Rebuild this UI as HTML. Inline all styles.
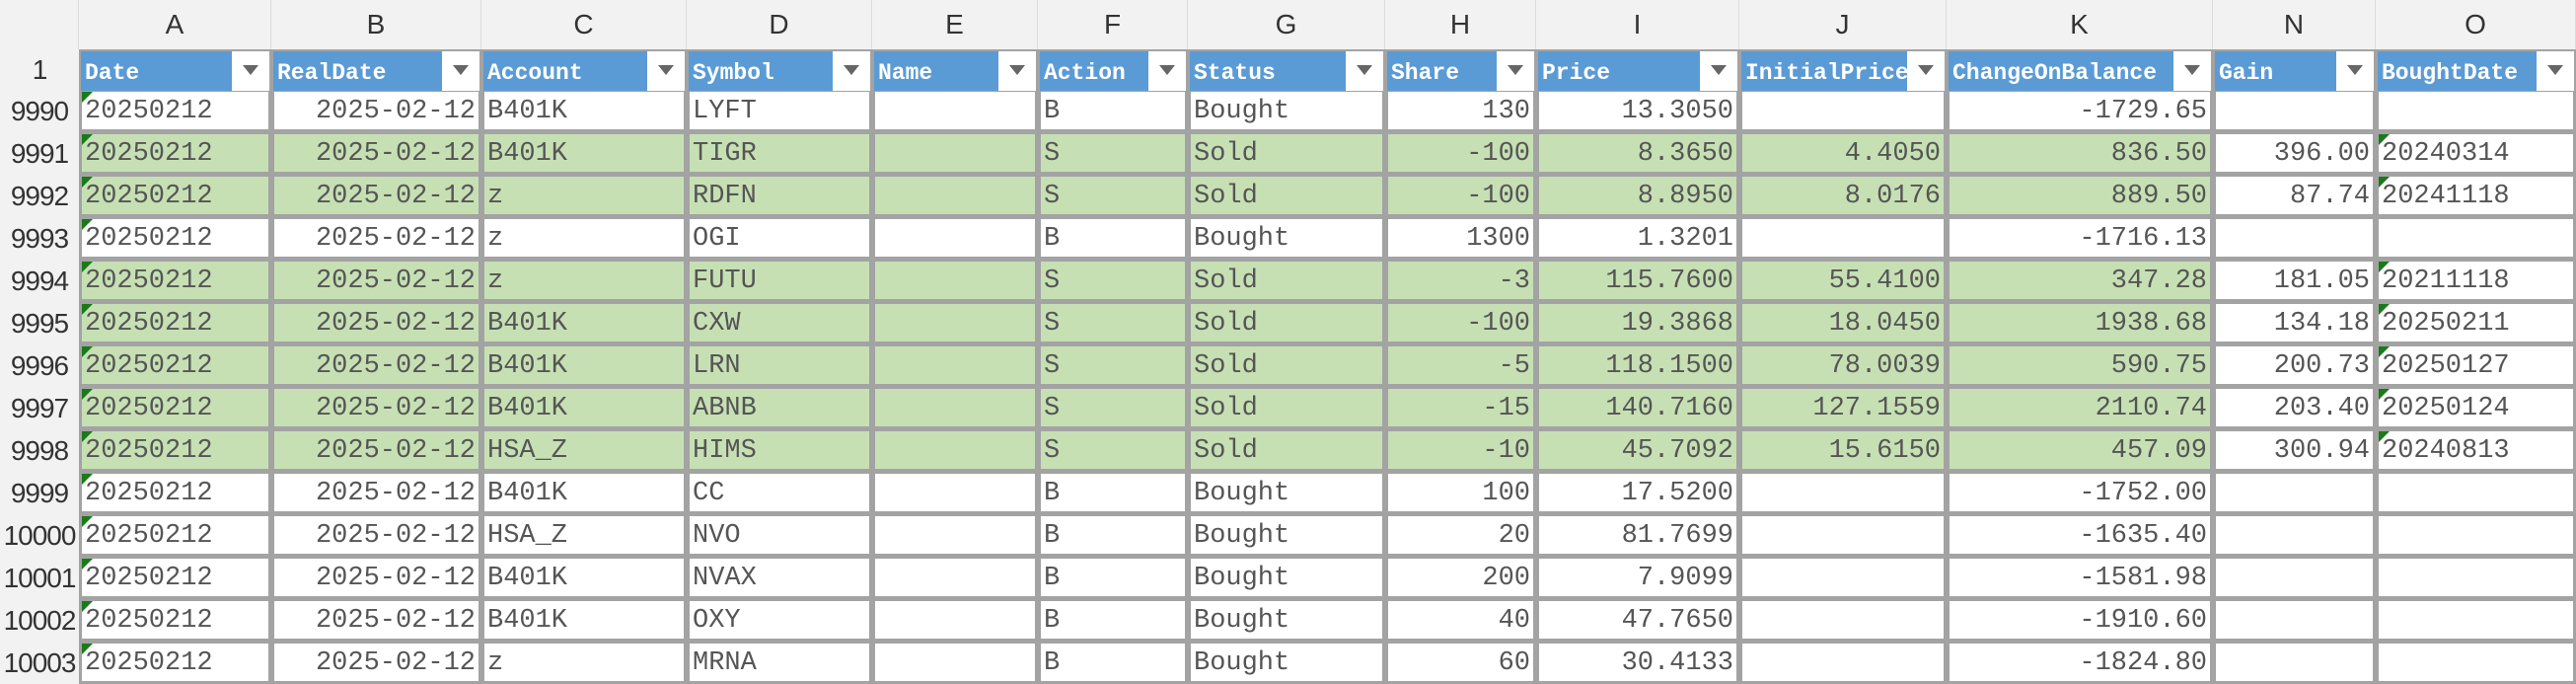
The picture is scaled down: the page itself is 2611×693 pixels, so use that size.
<!DOCTYPE html>
<html><head><meta charset="utf-8">
<style>
*{box-sizing:border-box;margin:0;padding:0}
body{width:2611px;height:691px;overflow:hidden;background:#a3a3a3;position:relative;font-family:"Liberation Mono",monospace}
.c{position:absolute;overflow:hidden;white-space:nowrap}
.colh{background:#f2f2f2;color:#333;font-family:"Liberation Sans",sans-serif;font-size:28px;text-align:center;line-height:50px;border-right:1px solid #dcdcdc}
.rowh{background:#f2f2f2;color:#333;font-family:"Liberation Sans",sans-serif;font-size:28px;letter-spacing:-1px;text-align:center}
.hd{background:#5b9bd5;color:#fff;font-weight:bold;font-size:23px;padding-left:4px;line-height:44px}
.fb{position:absolute;right:0;top:0;width:38px;height:100%;background:#fff}
.fb:after{content:"";position:absolute;left:11px;top:14px;border-left:8px solid transparent;border-right:8px solid transparent;border-top:10px solid #666}
.d{background:#fff;color:#555;font-size:27px;line-height:40px;padding:0 3px}
.g{background:#c6e0b4}
.r{text-align:right}
.tri{position:absolute;left:0;top:0;border-top:11px solid #1a7a1a;border-right:11px solid transparent}
</style></head><body>
<script>
const colX=[0,80,275,488,696,884,1052,1204,1404,1557,1763,1973,2243,2408,2611];
const letters=["A","B","C","D","E","F","G","H","I","J","K","N","O"];
const headers=["Date","RealDate","Account","Symbol","Name","Action","Status","Share","Price","InitialPrice","ChangeOnBalance","Gain","BoughtDate"];
const rightCols=[1,7,8,9,10,11];
const rowNums=[9990,9991,9992,9993,9994,9995,9996,9997,9998,9999,10000,10001,10002,10003];
const greenRows=[0,1,1,0,1,1,1,1,1,0,0,0,0,0];
const rows=[
["20250212","2025-02-12","B401K","LYFT","","B","Bought","130","13.3050","","-1729.65","",""],
["20250212","2025-02-12","B401K","TIGR","","S","Sold","-100","8.3650","4.4050","836.50","396.00","20240314"],
["20250212","2025-02-12","z","RDFN","","S","Sold","-100","8.8950","8.0176","889.50","87.74","20241118"],
["20250212","2025-02-12","z","OGI","","B","Bought","1300","1.3201","","-1716.13","",""],
["20250212","2025-02-12","z","FUTU","","S","Sold","-3","115.7600","55.4100","347.28","181.05","20211118"],
["20250212","2025-02-12","B401K","CXW","","S","Sold","-100","19.3868","18.0450","1938.68","134.18","20250211"],
["20250212","2025-02-12","B401K","LRN","","S","Sold","-5","118.1500","78.0039","590.75","200.73","20250127"],
["20250212","2025-02-12","B401K","ABNB","","S","Sold","-15","140.7160","127.1559","2110.74","203.40","20250124"],
["20250212","2025-02-12","HSA_Z","HIMS","","S","Sold","-10","45.7092","15.6150","457.09","300.94","20240813"],
["20250212","2025-02-12","B401K","CC","","B","Bought","100","17.5200","","-1752.00","",""],
["20250212","2025-02-12","HSA_Z","NVO","","B","Bought","20","81.7699","","-1635.40","",""],
["20250212","2025-02-12","B401K","NVAX","","B","Bought","200","7.9099","","-1581.98","",""],
["20250212","2025-02-12","B401K","OXY","","B","Bought","40","47.7650","","-1910.60","",""],
["20250212","2025-02-12","z","MRNA","","B","Bought","60","30.4133","","-1824.80","",""]
];
function mk(cls,x,y,w,h,txt){const e=document.createElement('div');e.className='c '+cls;e.style.left=x+'px';e.style.top=y+'px';e.style.width=w+'px';e.style.height=h+'px';if(txt!==undefined)e.textContent=txt;document.body.appendChild(e);return e;}
const corner=mk('colh',0,0,80,50);


for(let i=0;i<letters.length;i++){
  const e=mk('colh',colX[i+1],0,colX[i+2]-colX[i+1],50,letters[i]);
  
  
}
const r1=mk('rowh',0,50,80,42,'1');r1.style.lineHeight='42px';


for(let i=0;i<headers.length;i++){
  const x=colX[i+1]+2,w=colX[i+2]-colX[i+1]-4;
  const e=mk('hd',x,52,w,40,headers[i]);
  
  
  const f=document.createElement('div');f.className='fb';
  
  
  e.appendChild(f);
}
const top0=93,pitch=43;
for(let r=0;r<rows.length;r++){
  const y=top0+r*pitch;
  const rh=mk('rowh',0,y-2,80,pitch,String(rowNums[r]));rh.style.lineHeight=pitch+'px';
  
  
  for(let c=0;c<headers.length;c++){
    const x=colX[c+1]+3,w=colX[c+2]-colX[c+1]-6;
    let cls='d';
    if(greenRows[r]&&c<=10)cls+=' g';
    if(rightCols.includes(c))cls+=' r';
    const e=mk(cls,x,y,w,pitch-5,rows[r][c]);
    
    
    if(c===0||(c===12&&rows[r][c])){const t=document.createElement('div');t.className='tri';e.appendChild(t);}
  }
}
</script>
</body></html>
